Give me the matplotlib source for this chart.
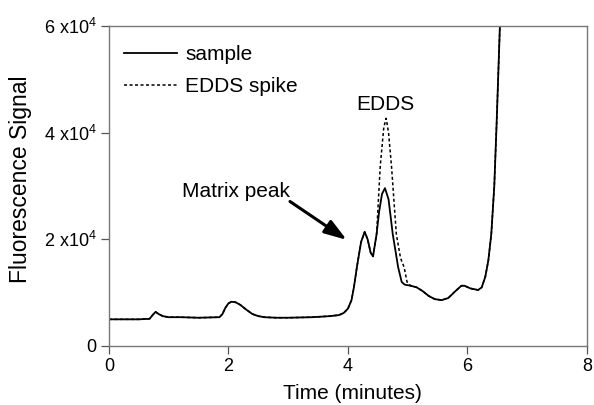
import numpy as np
import matplotlib.pyplot as plt

plt.rcParams['font.family'] = ['Liberation Sans', 'DejaVu Sans']
plt.rcParams['mathtext.default'] = 'regular'

# time (min) and signal (x10^4)
sample_t = [0, 0.5, 0.68, 0.73, 0.78, 0.83, 0.9, 1.0, 1.2, 1.5, 1.85, 1.9, 1.95, 2.0, 2.05, 2.12,
            2.2, 2.3, 2.4, 2.5, 2.6, 2.8, 3.0, 3.4, 3.7, 3.85, 3.93, 4.0, 4.06, 4.1, 4.15, 4.22,
            4.28, 4.33, 4.38, 4.42, 4.48, 4.52, 4.57, 4.62, 4.68, 4.75, 4.84, 4.9, 4.95, 5.05,
            5.15, 5.25, 5.35, 5.45, 5.57, 5.68, 5.8, 5.9, 5.95, 6.05, 6.18, 6.24, 6.3, 6.35,
            6.4, 6.45, 6.49, 6.52, 6.55]
sample_y = [0.50, 0.50, 0.51, 0.58, 0.64, 0.60, 0.56, 0.54, 0.54, 0.53, 0.54, 0.60, 0.72, 0.80, 0.83, 0.82,
            0.77, 0.68, 0.60, 0.56, 0.54, 0.53, 0.53, 0.54, 0.56, 0.58, 0.62, 0.70, 0.86, 1.1, 1.48, 1.95,
            2.14, 2.0, 1.75, 1.68, 2.1, 2.5, 2.85, 2.96, 2.75, 2.1, 1.48, 1.2, 1.15, 1.13,
            1.10, 1.03, 0.94, 0.88, 0.86, 0.90, 1.03, 1.13, 1.13, 1.08, 1.05, 1.10, 1.3, 1.6,
            2.1, 3.0, 4.2, 5.2, 6.2]

# EDDS spike trace where it departs from the sample
spike_t_mid = [4.42, 4.48, 4.54, 4.60, 4.64, 4.68, 4.73, 4.81, 4.88, 4.94, 4.99, 5.05]
spike_y_mid = [1.68, 2.1, 3.36, 4.1, 4.27, 4.0, 3.36, 2.1, 1.65, 1.48, 1.2, 1.13]

yticks = [0, 2, 4, 6]
yticklabels = ['0', '2 x10$^4$', '4 x10$^4$', '6 x10$^4$']
xticks = [0, 2, 4, 6, 8]

st = np.array(sample_t)
sy = np.array(sample_y) * 1e4
pre = st < 4.42
post = st > 5.05
spike_t = np.concatenate([st[pre], spike_t_mid, st[post]])
spike_y = np.concatenate([sy[pre], np.array(spike_y_mid) * 1e4, sy[post]])

fig = plt.figure(figsize=(5.94, 4.05), dpi=100)
ax = fig.add_axes([0.1835, 0.1457, 0.8045, 0.79])

ax.plot(st, sy, color='black', lw=1.3, label='sample')
ax.plot(spike_t, spike_y, color='black', lw=1.1, ls=(0, (2, 1.6)), label='EDDS spike')

ax.set_xlim(0, 8)
ax.set_ylim(0, 6e4)
ax.set_xticks(xticks)
ax.set_yticks([v * 1e4 for v in yticks])
ax.set_yticklabels(yticklabels)
ax.tick_params(direction='out', length=6, width=0.9, color='#555555', labelsize=13, pad=3)
for s in ax.spines.values():
    s.set_color('#777777')
    s.set_linewidth(1.0)

ax.set_xlabel('Time (minutes)', fontsize=15)
ax.xaxis.set_label_coords(0.51, -0.118)
ax.set_ylabel('Fluorescence Signal', fontsize=16.5)
ax.yaxis.set_label_coords(-0.161, 0.52)

ax.text(1.23, 2.79e4, 'Matrix peak', fontsize=15, ha='left', va='baseline')
ax.annotate('', xy=(3.98, 1.99e4), xytext=(3.03, 2.71e4),
            arrowprops=dict(arrowstyle='-|>,head_length=0.75,head_width=0.25', color='black',
                            lw=2.2, mutation_scale=18, shrinkA=0, shrinkB=0))
ax.text(4.62, 4.52e4, 'EDDS', fontsize=15, ha='center', va='center')

ax.legend(loc='upper left', frameon=False, fontsize=15, handlelength=2.55,
          bbox_to_anchor=(0.0, 0.985), labelspacing=0.6, handletextpad=0.4,
          borderaxespad=0.3)

fig.savefig('out.png', dpi=100)
